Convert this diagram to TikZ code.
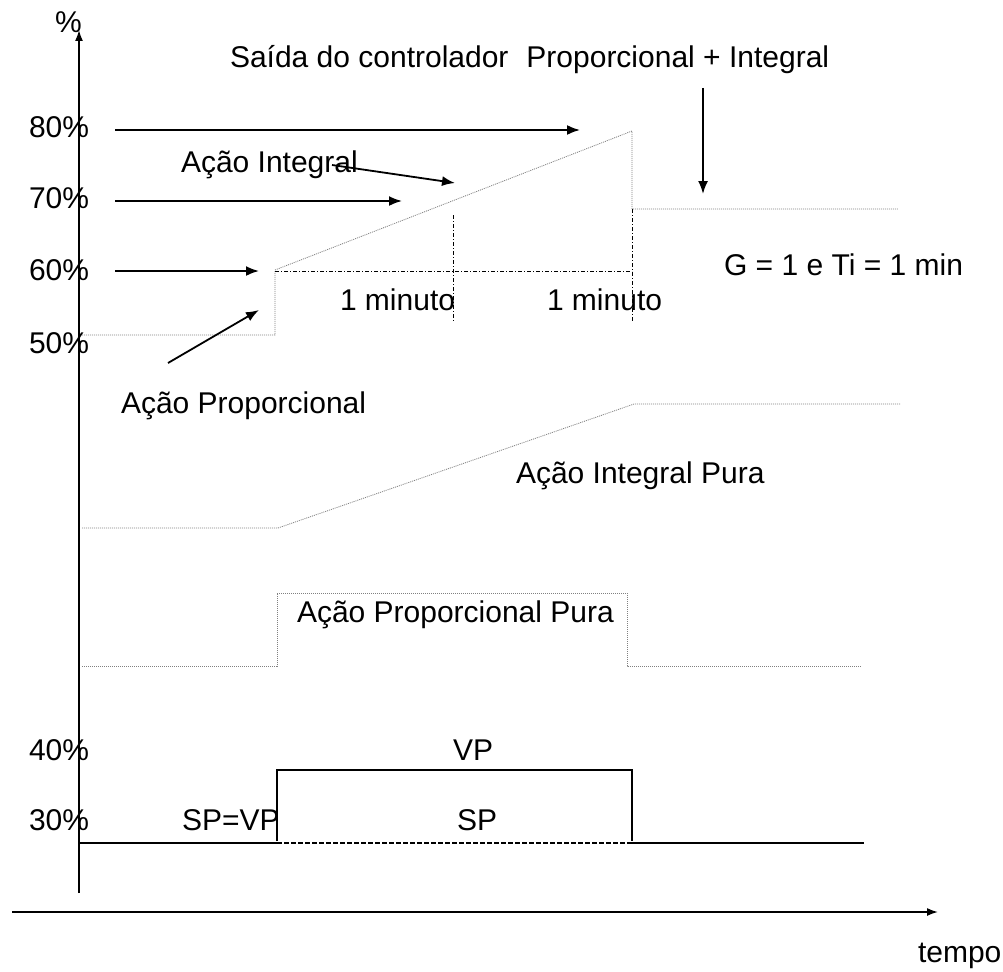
\documentclass[tikz,border=0pt]{standalone}
\usepackage{fontspec}
\setmainfont{Liberation Sans}
\usetikzlibrary{arrows.meta}
\begin{document}
\begin{tikzpicture}[x=1pt,y=-1pt,
  lbl/.style={anchor=base west,inner sep=0pt,outer sep=0pt,font=\fontsize{30}{34}\selectfont},
  axis/.style={line width=1.6pt,-{Latex[length=11pt,width=8pt]}},
  pointer/.style={line width=1.8pt,-{Latex[length=13pt,width=10pt]}},
  trace/.style={gray,line width=0.8pt,dash pattern=on 1pt off 1pt},
  guide/.style={black,line width=0.8pt,dash pattern=on 4pt off 2pt on 1pt off 2pt},
  signal/.style={line width=2.4pt},
]
\useasboundingbox (0,0) rectangle (1003,971);
\fill[white] (0,0) rectangle (1003,971);

% axes
\coordinate (yb) at (79,893);
\coordinate (yt) at (79,30);
\coordinate (xl) at (12,912);
\coordinate (xr) at (938,912);
\draw[axis] (yb) -- (yt);
\draw[axis] (xl) -- (xr);
\node[lbl] (pct) at (55,33) {\%};
\node[lbl] (tempo) at (918,962) {tempo};

% scale labels
\node[lbl] (p80) at (29,138) {80\%};
\node[lbl] (p70) at (29,208) {70\%};
\node[lbl] (p60) at (29,280) {60\%};
\node[lbl] (p50) at (29,353) {50\%};
\node[lbl] (p40) at (29,760) {40\%};
\node[lbl] (p30) at (29,830) {30\%};

% P + I controller output
\coordinate (a0) at (82,335);
\coordinate (a1) at (275,335);
\coordinate (a2) at (275,270);
\coordinate (a3) at (632,131);
\coordinate (a4) at (632,209);
\coordinate (a5) at (898,209);
\draw[trace] (a0) -- (a1) -- (a2) -- (a3) -- (a4) -- (a5);

% one-minute marks
\coordinate (m0) at (275,271);
\coordinate (m1) at (632,271);
\coordinate (v1t) at (453,215);
\coordinate (v1b) at (453,322);
\coordinate (v2b) at (632,322);
\draw[guide] (m0) -- (m1);
\draw[guide] (v1t) -- (v1b);
\draw[guide] (a4) -- (v2b);
\node[lbl] (min1) at (340,310) {1 minuto};
\node[lbl] (min2) at (547,310) {1 minuto};

% pointers from the scale
\coordinate (s80) at (115,130);
\coordinate (e80) at (580,130);
\coordinate (s70) at (115,201);
\coordinate (e70) at (402,201);
\coordinate (s60) at (115,271);
\coordinate (e60) at (259,271);
\draw[pointer] (s80) -- (e80);
\draw[pointer] (s70) -- (e70);
\draw[pointer] (s60) -- (e60);

\node[lbl] (tit) at (230,68) {Saída do controlador\hspace{0.6em}Proporcional + Integral};
\coordinate (d0) at (703,88);
\coordinate (d1) at (703,194);
\draw[pointer] (d0) -- (d1);

\node[lbl] (ai) at (181,172) {Ação Integral};
\coordinate (ai0) at (332,165);
\coordinate (ai1) at (455,183);
\draw[pointer] (ai0) -- (ai1);

\node[lbl] (ap) at (121,413) {Ação Proporcional};
\coordinate (ap0) at (168,363);
\coordinate (ap1) at (259,310);
\draw[pointer] (ap0) -- (ap1);

\node[lbl] (gain) at (724,275) {G = 1 e Ti = 1 min};

% pure integral action
\coordinate (i0) at (82,528);
\coordinate (i1) at (278,528);
\coordinate (i2) at (634,404);
\coordinate (i3) at (900,404);
\draw[trace] (i0) -- (i1) -- (i2) -- (i3);
\node[lbl] (ipura) at (516,483) {Ação Integral Pura};

% pure proportional action
\coordinate (q0) at (82,666);
\coordinate (q1) at (277,666);
\coordinate (q2) at (277,593);
\coordinate (q3) at (627,593);
\coordinate (q4) at (627,666);
\coordinate (q5) at (862,666);
\draw[trace] (q0) -- (q1) -- (q2) -- (q3) -- (q4) -- (q5);
\node[lbl] (ppura) at (297,622) {Ação Proporcional Pura};

% set point and process variable
\coordinate (sp0) at (80,843);
\coordinate (sp1) at (277,843);
\coordinate (sp2) at (632,843);
\coordinate (sp3) at (864,843);
\draw[signal] (sp0) -- (sp1);
\draw[line width=2pt,dash pattern=on 5pt off 2pt] (sp1) -- (sp2);
\draw[signal] (sp2) -- (sp3);
\coordinate (vp1) at (277,770);
\coordinate (vp2) at (632,770);
\draw[line width=2pt] (277,841) -- (vp1) -- (vp2) -- (632,841);
\node[lbl] (vp) at (453,760) {VP};
\node[lbl] (sp) at (457,830) {SP};
\node[lbl] (spvp) at (182,830) {SP=VP};
\end{tikzpicture}
\end{document}
